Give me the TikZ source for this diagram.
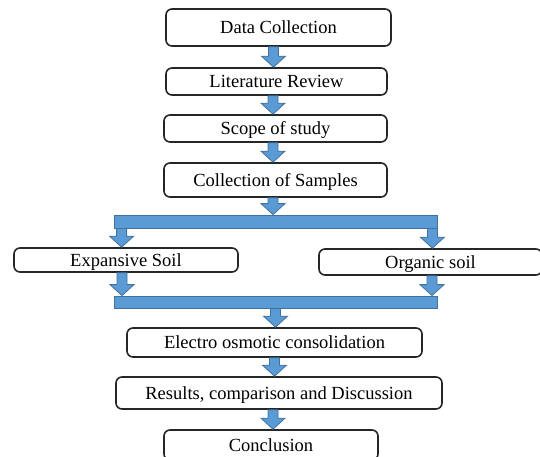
\documentclass[tikz,border=0pt]{standalone}
\usepackage{fontspec}
\setmainfont{Liberation Serif}
\usetikzlibrary{calc}
\definecolor{arrfill}{HTML}{5B9BD5}
\definecolor{arrline}{HTML}{41719C}
\tikzset{
  box/.style={draw=black!85, line width=1.6pt, rounded corners=6pt, fill=white, inner sep=0pt, text height=12.2pt, text depth=0pt, font=\fontsize{18.5}{20}\selectfont},
  barsty/.style={fill=arrfill, draw=arrline, line width=0.8pt, inner sep=0pt},
  arrowsty/.style={fill=arrfill, draw=arrline, line width=0.8pt, line join=miter}
}
\newcommand\barr[2]{%
  \filldraw[arrowsty] let \p1=(#1), \p2=(#2) in
    (\x1-5pt,\y1) -- (\x1+5pt,\y1) -- (\x1+5pt,\y2+11pt) -- (\x1+12pt,\y2+11pt)
    -- (\x1,\y2) -- (\x1-12pt,\y2+11pt) -- (\x1-5pt,\y2+11pt) -- cycle;}
\begin{document}
\begin{tikzpicture}[x=1pt,y=-1pt]
\useasboundingbox (0,0) rectangle (540,457);
\clip (0,0) rectangle (540,457);
\node[box, minimum width=225pt, minimum height=37pt] (dc) at (278.5,27.5) {Data Collection};
\node[box, minimum width=221pt, minimum height=27pt] (lr) at (276.5,81.5) {Literature Review};
\node[box, minimum width=223pt, minimum height=27pt] (sc) at (275.5,128.5) {Scope of study};
\node[box, minimum width=223pt, minimum height=34pt] (cs) at (275.5,180) {Collection of Samples};
\node[barsty, minimum width=323pt, minimum height=13pt] (bar1) at (275.5,221.5) {};
\node[box, minimum width=224pt, minimum height=24pt] (ex) at (126,260) {Expansive Soil};
\node[box, minimum width=223pt, minimum height=26pt] (or) at (430.5,262) {Organic soil};
\node[barsty, minimum width=323pt, minimum height=12pt] (bar2) at (275.5,302) {};
\node[box, minimum width=295pt, minimum height=29pt] (el) at (274.5,342.5) {Electro osmotic consolidation};
\node[box, minimum width=326pt, minimum height=32pt] (re) at (279,393) {Results, comparison and Discussion};
\node[box, minimum width=214pt, minimum height=30pt] (co) at (271,445) {Conclusion};
\barr{[xshift=-5pt]dc.south}{lr.north}
\barr{[xshift=-3.5pt]lr.south}{sc.north}
\barr{[xshift=-2.5pt]sc.south}{cs.north}
\barr{[xshift=-2.5pt]cs.south}{bar1.north}
\barr{[xshift=8pt]bar1.south west}{ex.north}
\barr{[xshift=-5pt]bar1.south east}{or.north}
\barr{[xshift=-4pt]ex.south}{bar2.north}
\barr{[xshift=1.5pt]or.south}{bar2.north}
\barr{bar2.south}{el.north}
\barr{el.south}{re.north}
\barr{[xshift=-6pt]re.south}{co.north}
\end{tikzpicture}
\end{document}
